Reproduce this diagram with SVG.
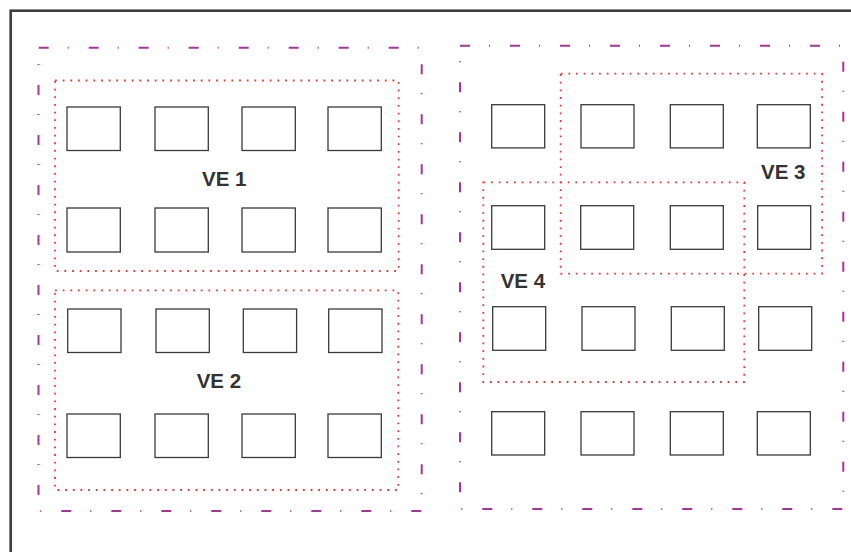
<svg xmlns="http://www.w3.org/2000/svg" width="851" height="552" viewBox="0 0 851 552">
<style>
.frame{fill:none;stroke:#3c3c3c;stroke-width:2.6}
.host{fill:none;stroke:#aa3399;stroke-width:2;stroke-dasharray:10 19 1 20}
.ve{fill:none;stroke:#ee3838;stroke-width:1.8;stroke-dasharray:1.8 5.87}
.vm{fill:#fff;stroke:#3a3a3a;stroke-width:1.3}
.lbl{font-family:"Liberation Sans",Arial,Helvetica,sans-serif;font-weight:bold;font-size:20.5px;fill:#333}
</style>
<rect width="851" height="552" fill="#fff"/>
<rect class="frame" x="10.7" y="10.7" width="900" height="600"/>
<g id="connectors"></g>
<g id="host-left">
<line class="host" x1="38.7" y1="47.7" x2="421.7" y2="47.7"/>
<line class="host" x1="421.7" y1="47.7" x2="421.7" y2="511" stroke-dashoffset="33.4"/>
<line class="host" x1="38.5" y1="511" x2="421.7" y2="511" stroke-dashoffset="27.2"/>
<line class="host" x1="38.5" y1="47.7" x2="38.5" y2="511" stroke-dashoffset="12.7"/>
</g>
<g id="host-right">
<line class="host" x1="460" y1="45.7" x2="843.3" y2="45.7"/>
<line class="host" x1="843.3" y1="45.7" x2="843.3" y2="509" stroke-dashoffset="34"/>
<line class="host" x1="460" y1="509" x2="843.3" y2="509" stroke-dashoffset="27.7"/>
<line class="host" x1="460" y1="45.7" x2="460" y2="509" stroke-dashoffset="13.4"/>
</g>
<g id="ve1">
<rect class="ve" x="55" y="80.5" width="343.7" height="190.5"/>
<text class="lbl" x="202" y="186">VE 1</text>
</g>
<g id="ve2">
<rect class="ve" x="55" y="290.3" width="343.3" height="199.7"/>
<text class="lbl" x="196.7" y="388">VE 2</text>
</g>
<g id="ve3">
<rect class="ve" x="560.7" y="73.7" width="261.3" height="200"/>
<text class="lbl" x="761" y="179">VE 3</text>
</g>
<g id="ve4">
<rect class="ve" x="483.3" y="182.3" width="261" height="199.7"/>
<text class="lbl" x="500.7" y="288">VE 4</text>
</g>
<g id="vms-left">
<rect class="vm" x="67" y="107" width="53.3" height="43.5"/>
<rect class="vm" x="155" y="107" width="53.3" height="43.5"/>
<rect class="vm" x="242" y="107" width="53.3" height="43.5"/>
<rect class="vm" x="328" y="107" width="53.3" height="43.5"/>
<rect class="vm" x="67" y="208" width="53.3" height="44"/>
<rect class="vm" x="155" y="208" width="53.3" height="44"/>
<rect class="vm" x="242" y="208" width="53.3" height="44"/>
<rect class="vm" x="328" y="208" width="53.3" height="44"/>
<rect class="vm" x="67.7" y="309" width="53.3" height="43.5"/>
<rect class="vm" x="156" y="309" width="53.3" height="43.5"/>
<rect class="vm" x="243.3" y="309" width="53.3" height="43.5"/>
<rect class="vm" x="328.7" y="309" width="53.3" height="43.5"/>
<rect class="vm" x="67" y="414" width="53.3" height="43.5"/>
<rect class="vm" x="155" y="414" width="53.3" height="43.5"/>
<rect class="vm" x="242" y="414" width="53.3" height="43.5"/>
<rect class="vm" x="328" y="414" width="53.3" height="43.5"/>
</g>
<g id="vms-right">
<rect class="vm" x="491.7" y="104.7" width="53" height="43.2"/>
<rect class="vm" x="581" y="104.7" width="53" height="43.2"/>
<rect class="vm" x="670.3" y="104.7" width="53" height="43.2"/>
<rect class="vm" x="757.3" y="104.7" width="53" height="43.2"/>
<rect class="vm" x="491.7" y="205.7" width="53" height="43.6"/>
<rect class="vm" x="580.7" y="205.7" width="53" height="43.6"/>
<rect class="vm" x="670.3" y="205.7" width="53" height="43.6"/>
<rect class="vm" x="757.7" y="205.7" width="53" height="43.6"/>
<rect class="vm" x="492.7" y="306.7" width="53" height="43.6"/>
<rect class="vm" x="582" y="306.7" width="53" height="43.6"/>
<rect class="vm" x="671.3" y="306.7" width="53" height="43.6"/>
<rect class="vm" x="758.7" y="306.7" width="53" height="43.6"/>
<rect class="vm" x="491.7" y="411.7" width="53" height="43.3"/>
<rect class="vm" x="581" y="411.7" width="53" height="43.3"/>
<rect class="vm" x="670.3" y="411.7" width="53" height="43.3"/>
<rect class="vm" x="757.3" y="411.7" width="53" height="43.3"/>
</g>
</svg>
